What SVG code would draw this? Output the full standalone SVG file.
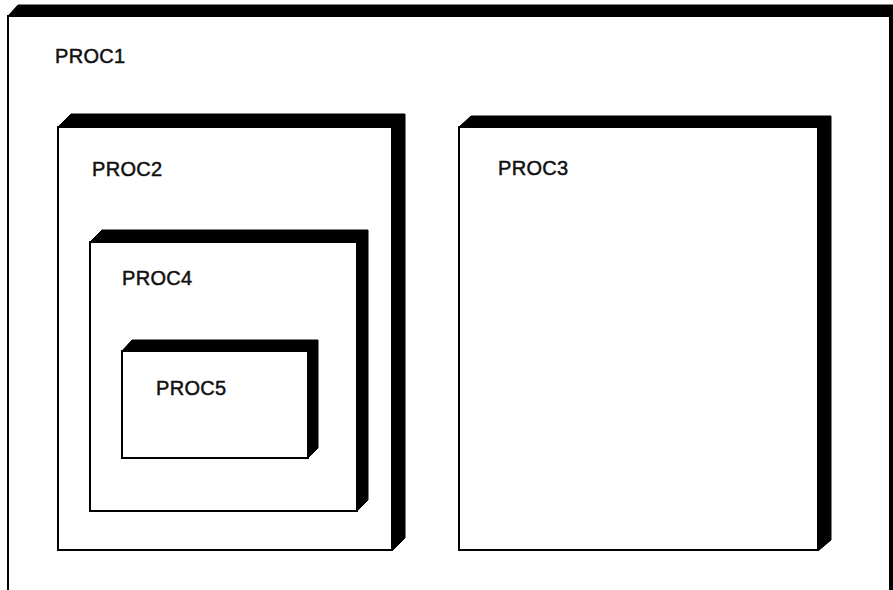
<svg xmlns="http://www.w3.org/2000/svg" width="893" height="590" viewBox="0 0 893 590">
<style>
.ext{fill:#000;stroke:#000;stroke-width:1;stroke-linejoin:round}
.face{fill:#fff;stroke:#000;stroke-width:2}
.lbl{font-family:"Liberation Sans",Arial,sans-serif;font-size:20px;fill:#111;stroke:#111;stroke-width:0.5;letter-spacing:0.3px}
</style>
<rect x="0" y="0" width="893" height="590" fill="#fff"/>
<g id="PROC1">
<polygon class="ext" points="8,16 18,5 900,5 900,590 890,590 890,16"/>
<rect class="face" x="8" y="16" width="882" height="590"/>
<text class="lbl" x="55" y="63">PROC1</text>
</g>
<g id="PROC2">
<polygon class="ext" points="58,127 71,114 405,114 405,538 392,551 392,127"/>
<rect class="face" x="58" y="127" width="334" height="423"/>
<text class="lbl" x="92" y="176">PROC2</text>
</g>
<g id="PROC4">
<polygon class="ext" points="90,242 102,230 368,230 368,500 357,511 357,242"/>
<rect class="face" x="90" y="242" width="267" height="269"/>
<text class="lbl" x="122" y="285">PROC4</text>
</g>
<g id="PROC5">
<polygon class="ext" points="122,351 132,340 318,340 318,448 308,458 308,351"/>
<rect class="face" x="122" y="351" width="186" height="107"/>
<text class="lbl" x="156" y="395">PROC5</text>
</g>
<g id="PROC3">
<polygon class="ext" points="459,127 471,116 831,116 831,540 818,551 818,127"/>
<rect class="face" x="459" y="127" width="359" height="423"/>
<text class="lbl" x="498" y="175">PROC3</text>
</g>
<g id="connectors"/>
</svg>
